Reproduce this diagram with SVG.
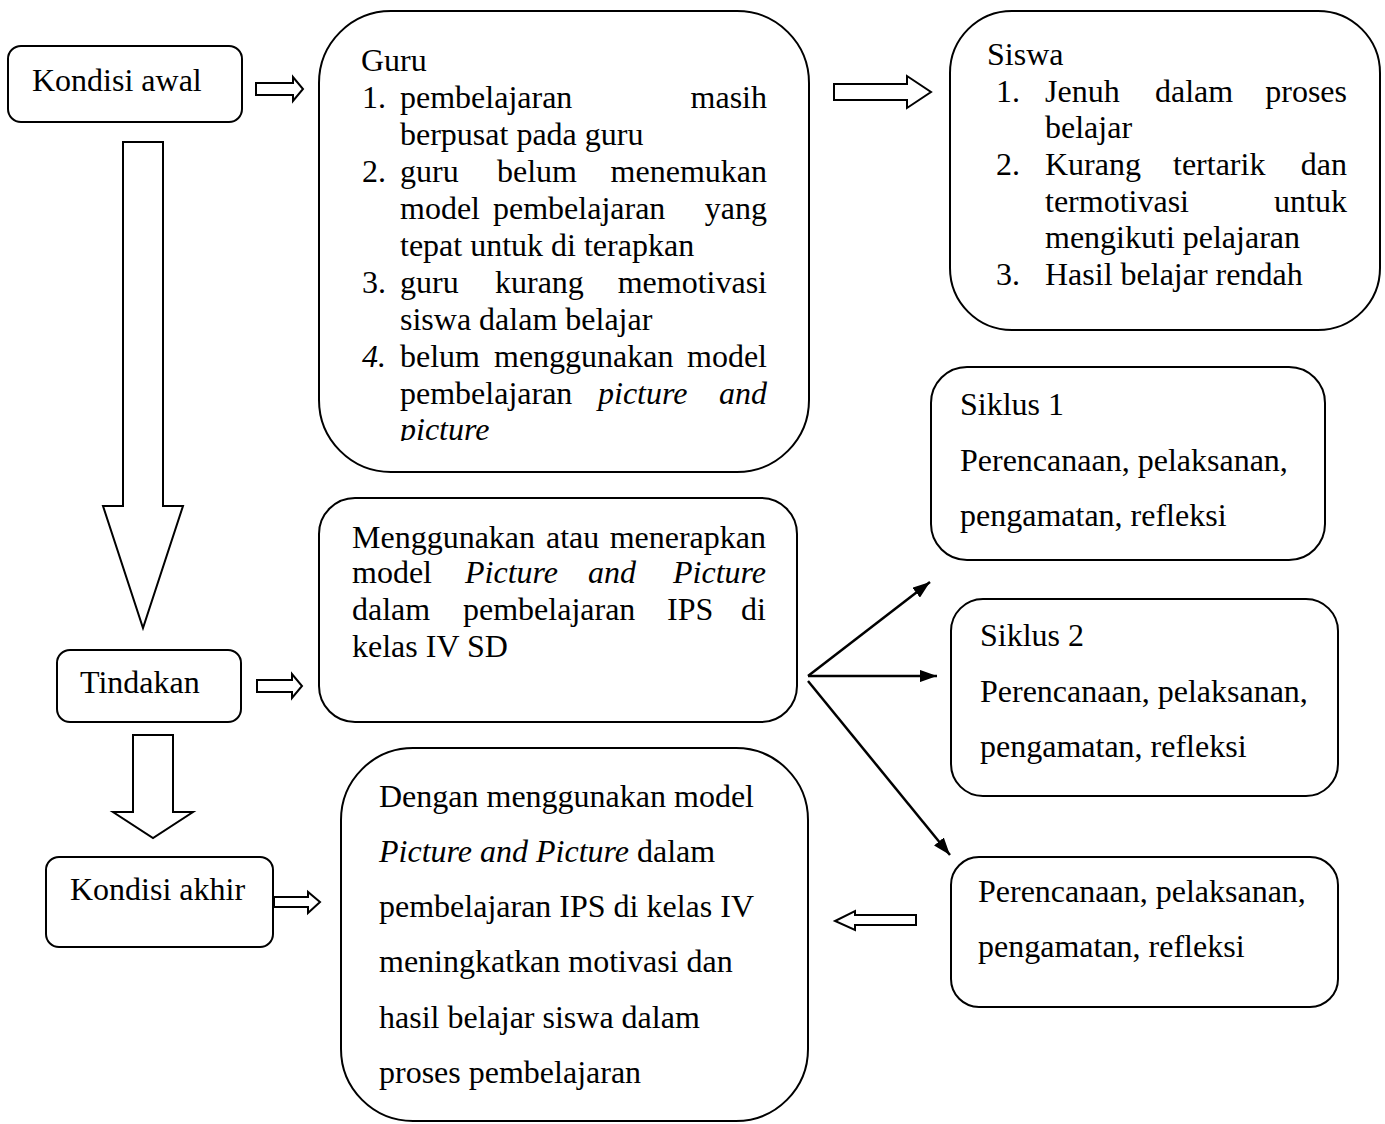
<svg xmlns="http://www.w3.org/2000/svg" width="1385" height="1124" viewBox="0 0 1385 1124">
<style>
.box{fill:#fff;stroke:#000;stroke-width:2}
.blk{fill:#fff;stroke:#000;stroke-width:2;stroke-linejoin:miter}
text{font-family:"Liberation Serif","Times New Roman",serif;font-size:32px;fill:#000}
.i{font-style:italic}
.e{text-anchor:end}
.ln{stroke:#000;stroke-width:2.5;fill:none}
</style>
<defs>
<marker id="ah" markerWidth="7" markerHeight="5" refX="7" refY="2.5" orient="auto" markerUnits="strokeWidth">
<path d="M0,0 L7,2.5 L0,5 z" fill="#000"/>
</marker>
<clipPath id="guruclip"><rect x="319" y="11" width="490" height="430"/></clipPath>
</defs>

<g id="connectors">
<polygon class="blk" points="256,83 293,83 293,77 303,89 293,101 293,95 256,95"/>
<polygon class="blk" points="834,84 907,84 907,76 931,92 907,108 907,100 834,100"/>
<polygon class="blk" points="123,142 163,142 163,506 183,506 143,628 103,506 123,506"/>
<polygon class="blk" points="257,680 292,680 292,674 302,686 292,698 292,692 257,692"/>
<polygon class="blk" points="133,735 173,735 173,812 193,812 153,838 113,812 133,812"/>
<polygon class="blk" points="274,897 308,897 308,892 320,902 308,913 308,907 274,907"/>
<polygon class="blk" points="916,915 855,915 855,911 835,921 855,930 855,925 916,925"/>
<line class="ln" x1="808" y1="676" x2="930" y2="582" marker-end="url(#ah)"/>
<line class="ln" x1="808" y1="676" x2="937" y2="676" marker-end="url(#ah)"/>
<line class="ln" x1="808" y1="681" x2="950" y2="855" marker-end="url(#ah)"/>
</g>

<g id="kondisi-awal">
<rect class="box" x="8" y="46" width="234" height="76" rx="13"/>
<text x="32" y="91">Kondisi awal</text>
</g>

<g id="guru">
<rect class="box" x="319" y="11" width="490" height="461" rx="72"/>
<g clip-path="url(#guruclip)">
<text x="361" y="71">Guru</text>
<text x="362" y="108">1.</text><text x="400" y="108">pembelajaran</text><text class="e" x="767" y="108">masih</text>
<text x="400" y="145">berpusat pada guru</text>
<text x="362" y="182">2.</text><text x="400" y="182">guru</text><text x="497" y="182">belum</text><text class="e" x="767" y="182">menemukan</text>
<text x="400" y="219">model</text><text x="493" y="219">pembelajaran</text><text class="e" x="767" y="219">yang</text>
<text x="400" y="256">tepat untuk di terapkan</text>
<text x="362" y="293">3.</text><text x="400" y="293">guru</text><text x="495" y="293">kurang</text><text class="e" x="767" y="293">memotivasi</text>
<text x="400" y="330">siswa dalam belajar</text>
<text class="i" x="362" y="367">4.</text><text x="400" y="367">belum</text><text x="494" y="367">menggunakan</text><text class="e" x="767" y="367">model</text>
<text x="400" y="404">pembelajaran</text><text class="i" x="598" y="404">picture</text><text class="i e" x="767" y="404">and</text>
<text class="i" x="400" y="440">picture</text>
</g>
</g>

<g id="siswa">
<rect class="box" x="950" y="11" width="430" height="319" rx="62"/>
<text x="987" y="65">Siswa</text>
<text x="996" y="102">1.</text><text x="1045" y="102">Jenuh</text><text x="1155" y="102">dalam</text><text class="e" x="1347" y="102">proses</text>
<text x="1045" y="138">belajar</text>
<text x="996" y="175">2.</text><text x="1045" y="175">Kurang</text><text x="1173" y="175">tertarik</text><text class="e" x="1347" y="175">dan</text>
<text x="1045" y="212">termotivasi</text><text class="e" x="1347" y="212">untuk</text>
<text x="1045" y="248">mengikuti pelajaran</text>
<text x="996" y="285">3.</text><text x="1045" y="285">Hasil belajar rendah</text>
</g>

<g id="siklus1">
<rect class="box" x="931" y="367" width="394" height="193" rx="36"/>
<text x="960" y="415">Siklus 1</text>
<text x="960" y="471">Perencanaan, pelaksanan,</text>
<text x="960" y="526">pengamatan, refleksi</text>
</g>

<g id="siklus2">
<rect class="box" x="951" y="599" width="387" height="197" rx="32"/>
<text x="980" y="646">Siklus 2</text>
<text x="980" y="702">Perencanaan, pelaksanan,</text>
<text x="980" y="757">pengamatan, refleksi</text>
</g>

<g id="siklus3">
<rect class="box" x="951" y="857" width="387" height="150" rx="28"/>
<text x="978" y="902">Perencanaan, pelaksanan,</text>
<text x="978" y="957">pengamatan, refleksi</text>
</g>

<g id="tindakan">
<rect class="box" x="57" y="650" width="184" height="72" rx="13"/>
<text x="80" y="693">Tindakan</text>
</g>

<g id="menggunakan">
<rect class="box" x="319" y="498" width="478" height="224" rx="36"/>
<text x="352" y="548">Menggunakan</text><text x="546" y="548">atau</text><text class="e" x="766" y="548">menerapkan</text>
<text x="352" y="583">model</text><text class="i" x="465" y="583">Picture</text><text class="i" x="588" y="583">and</text><text class="i e" x="766" y="583">Picture</text>
<text x="352" y="620">dalam</text><text x="463" y="620">pembelajaran</text><text x="667" y="620">IPS</text><text class="e" x="766" y="620">di</text>
<text x="352" y="657">kelas IV SD</text>
</g>

<g id="kondisi-akhir">
<rect class="box" x="46" y="857" width="227" height="90" rx="13"/>
<text x="70" y="900">Kondisi akhir</text>
</g>

<g id="hasil">
<rect class="box" x="341" y="748" width="467" height="373" rx="72"/>
<text x="379" y="807">Dengan menggunakan model</text>
<text x="379" y="862"><tspan class="i">Picture and Picture</tspan> dalam</text>
<text x="379" y="917">pembelajaran IPS di kelas IV</text>
<text x="379" y="972">meningkatkan motivasi dan</text>
<text x="379" y="1028">hasil belajar siswa dalam</text>
<text x="379" y="1083">proses pembelajaran</text>
</g>
</svg>
